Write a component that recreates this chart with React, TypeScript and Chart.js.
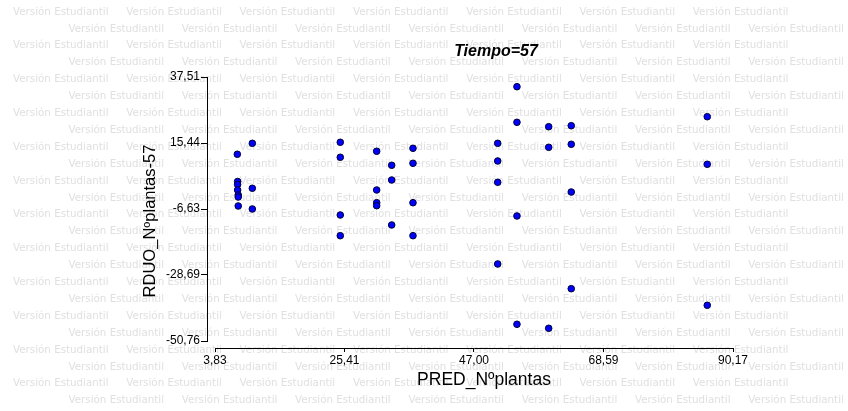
import React, { useEffect, useRef } from "react";
import { Chart, registerables } from "chart.js";

Chart.register(...registerables);

// ---- data ----
const PRED_X: number[] = [
  7.55, 7.6, 7.6, 7.6, 7.7, 7.7, 7.7,
  10.05, 10.05, 10.05,
  24.71, 24.71, 24.71, 24.71,
  30.78, 30.78, 30.78, 30.78,
  33.28, 33.28, 33.28,
  36.83, 36.83, 36.83, 36.83,
  50.95, 50.95, 50.95, 50.95,
  54.16, 54.16, 54.16, 54.16,
  59.45, 59.45, 59.45,
  63.21, 63.21, 63.21, 63.21,
  85.88, 85.88, 85.88,
];
const RDUO_Y: number[] = [
  11.67, 2.57, 1.57, -0.27, -1.94, -2.61, -5.62,
  15.34, 0.3, -6.62,
  15.68, 10.66, -8.63, -15.55,
  12.67, -0.27, -4.52, -5.52,
  7.99, 3.07, -11.97,
  13.67, 8.66, -4.52, -15.55,
  15.34, 9.43, 2.3, -25.01,
  34.27, 22.36, -8.96, -45.17,
  20.89, 14.0, -46.51,
  21.23, 15.01, -0.94, -33.27,
  24.24, 8.32, -38.82,
];
const X_TICKS: number[] = [3.83, 25.41, 47.0, 68.59, 90.17];
const Y_TICKS: number[] = [-50.76, -28.69, -6.63, 15.44, 37.51];

const TITLE = "Tiempo=57";
const X_TITLE = "PRED_Nºplantas";
const Y_TITLE = "RDUO_Nºplantas-57";
const WATERMARK = "Versión Estudiantil";

const FONT = '"Liberation Sans", Arial, sans-serif';

// axis gaps (axis lines are offset from the data frame)
const X_SPAN_PX = 518;
const Y_SPAN_PX = 264;
const GAP = 7;
const X_MIN = X_TICKS[0] - ((X_TICKS[X_TICKS.length - 1] - X_TICKS[0]) * GAP) / X_SPAN_PX;
const X_MAX = X_TICKS[X_TICKS.length - 1];
const Y_MIN = Y_TICKS[0] - ((Y_TICKS[Y_TICKS.length - 1] - Y_TICKS[0]) * GAP) / Y_SPAN_PX;
const Y_MAX = Y_TICKS[Y_TICKS.length - 1];

const fmt = (v: number) => v.toFixed(2).replace(".", ",");

const decorPlugin = {
  id: "decor",
  beforeDraw(chart: any) {
    const ctx = chart.ctx as CanvasRenderingContext2D;
    const W = chart.width;
    ctx.save();
    ctx.font = '10.3px "DejaVu Sans", sans-serif';
    ctx.fillStyle = "#e0e0e0";
    ctx.textBaseline = "middle";
    ctx.textAlign = "left";
    const w = ctx.measureText(WATERMARK).width;
    for (let k = 0; k < 24; k++) {
      const y = 12 + 16.9 * k;
      const x0 = k % 2 === 0 ? 13 : 68.5;
      for (let x = x0; x + w <= W + 1; x += 113.3) {
        ctx.fillText(WATERMARK, x, y);
      }
    }
    ctx.restore();
  },
  beforeDatasetsDraw(chart: any) {
    const ctx = chart.ctx as CanvasRenderingContext2D;
    const { x, y } = chart.scales;
    const area = chart.chartArea;
    ctx.save();
    ctx.strokeStyle = "#000";
    ctx.lineWidth = 1;
    ctx.beginPath();
    const ax = Math.round(area.left) - 0.5;
    ctx.moveTo(ax, Math.round(y.getPixelForValue(Y_MAX)));
    ctx.lineTo(ax, Math.round(y.getPixelForValue(Y_MIN + (Y_TICKS[0] - Y_MIN))) + 1);
    const ay = Math.round(area.bottom) + 0.5;
    ctx.moveTo(Math.round(x.getPixelForValue(X_TICKS[0])), ay);
    ctx.lineTo(Math.round(x.getPixelForValue(X_MAX)) + 1, ay);
    ctx.stroke();

    ctx.fillStyle = "#000";
    // main title
    ctx.font = `bold italic 16px ${FONT}`;
    ctx.textAlign = "center";
    ctx.textBaseline = "alphabetic";
    ctx.fillText(TITLE, 496, 56);
    // x title
    ctx.font = `17.5px ${FONT}`;
    ctx.fillText(X_TITLE, 484, 385);
    // y title
    ctx.save();
    ctx.translate(155, 221);
    ctx.rotate(-Math.PI / 2);
    ctx.font = `16.5px ${FONT}`;
    ctx.fillText(Y_TITLE, 0, 0);
    ctx.restore();
    ctx.restore();
  },
};

export default function App() {
  const ref = useRef<HTMLCanvasElement | null>(null);
  useEffect(() => {
    if (!ref.current) return;
    const chart = new Chart(ref.current, {
      type: "scatter",
      data: {
        datasets: [
          {
            data: PRED_X.map((xv, i) => ({ x: xv, y: RDUO_Y[i] })),
            backgroundColor: "#0000ff",
            borderColor: "#000033",
            borderWidth: 1,
            pointRadius: 3.3,
          },
        ],
      },
      options: {
        responsive: false,
        animation: false,
        layout: { padding: { left: 0, right: 848 - 733, top: 77, bottom: 411 - 348 - 30 } },
        plugins: {
          legend: { display: false },
          tooltip: { enabled: false },
          title: { display: false },
        },
        scales: {
          x: {
            type: "linear",
            position: "bottom",
            min: X_MIN,
            max: X_MAX,
            afterBuildTicks: (s: any) => {
              s.ticks = X_TICKS.map((v) => ({ value: v }));
            },
            afterFit: (s: any) => {
              s.height = 30;
            },
            grid: {
              display: true,
              drawOnChartArea: false,
              drawTicks: true,
              tickLength: 4,
              tickColor: "#000",
              tickWidth: 1,
              color: "#000",
            },
            border: { display: false },
            ticks: {
              padding: 1,
              color: "#000",
              autoSkip: false,
              maxRotation: 0,
              font: { family: FONT, size: 12 },
              callback: (v: any) => fmt(Number(v)),
            },
          },
          y: {
            type: "linear",
            position: "left",
            min: Y_MIN,
            max: Y_MAX,
            afterBuildTicks: (s: any) => {
              s.ticks = Y_TICKS.map((v) => ({ value: v }));
            },
            afterFit: (s: any) => {
              s.width = 208;
            },
            grid: {
              display: true,
              drawOnChartArea: false,
              drawTicks: true,
              tickLength: 7,
              tickColor: "#000",
              tickWidth: 1,
              color: "#000",
            },
            border: { display: false },
            ticks: {
              padding: 1,
              color: "#000",
              autoSkip: false,
              font: { family: FONT, size: 12 },
              callback: (v: any) => fmt(Number(v)),
            },
          },
        },
      },
      plugins: [decorPlugin],
    });
    return () => chart.destroy();
  }, []);
  return (
    <div style={{ position: "fixed", left: 0, top: 0, width: 848, height: 411, background: "#fff" }}>
      <canvas ref={ref} width={848} height={411} style={{ width: 848, height: 411, display: "block" }} />
    </div>
  );
}
